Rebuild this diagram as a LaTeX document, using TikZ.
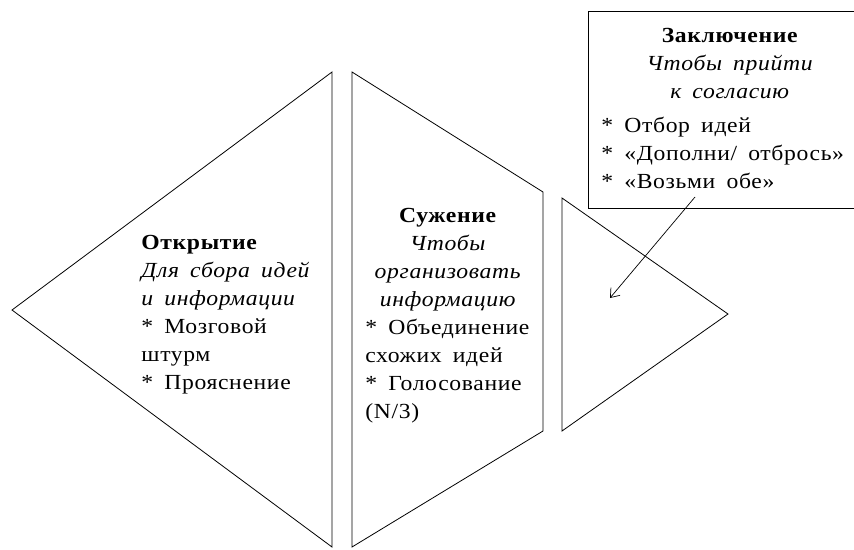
\documentclass[tikz,border=0pt]{standalone}
\usepackage{fontspec}
\setmainfont[FakeStretch=1.1,LetterSpace=3,WordSpace=1.7]{Liberation Serif}
\usetikzlibrary{arrows.meta,positioning}
\tikzset{>={Straight Barb[length=8pt,width=12pt]}}

\begin{document}
\begin{tikzpicture}[x=1pt, y=-1pt, line width=0.8pt,
                every node/.append style={inner sep=0pt},
                txt/.style={font=\fontsize{21.5}{28}\selectfont},
                ttl/.style={txt, align=center, anchor=north},
                lst/.style={txt, align=left, anchor=north west}]
    \useasboundingbox (0,0) rectangle (854,549);

    % the three stages and the box
    \draw (12,310) -- (332,72) -- (332,547) -- cycle;
    \draw (352,72) -- (543,192) -- (543,431) -- (352,547) -- cycle;
    \draw (562,198) -- (728,314) -- (562,431) -- cycle;
    \draw (854,11) -- (588,11) -- (588,208) -- (854,208);

    \node [lst] (open) at (141,235)
        {\textbf{Открытие}\\\textit{Для сбора идей}\\\textit{и информации}\\* Мозговой\\штурм\\* Прояснение};

    \node [ttl] (narrow) at (448,208)
        {\textbf{Сужение}\\\textit{Чтобы}\\\textit{организовать}\\\textit{информацию}};
    \node [lst] (narrowlist) at (365,319)
        {* Объединение\\схожих идей\\* Голосование\\(N/3)};

    \node [ttl] (close) at (730,28)
        {\textbf{Заключение}\\\textit{Чтобы прийти}\\\textit{к согласию}};
    \node [lst] (closelist) at (601,117)
        {* Отбор идей\\* «Дополни/ отбрось»\\* «Возьми обе»};

    \coordinate (from) at (695,197);
    \coordinate (to) at (610,298);
    \draw[->, line width=0.7pt] (from) -- (to);
\end{tikzpicture}
\end{document}
